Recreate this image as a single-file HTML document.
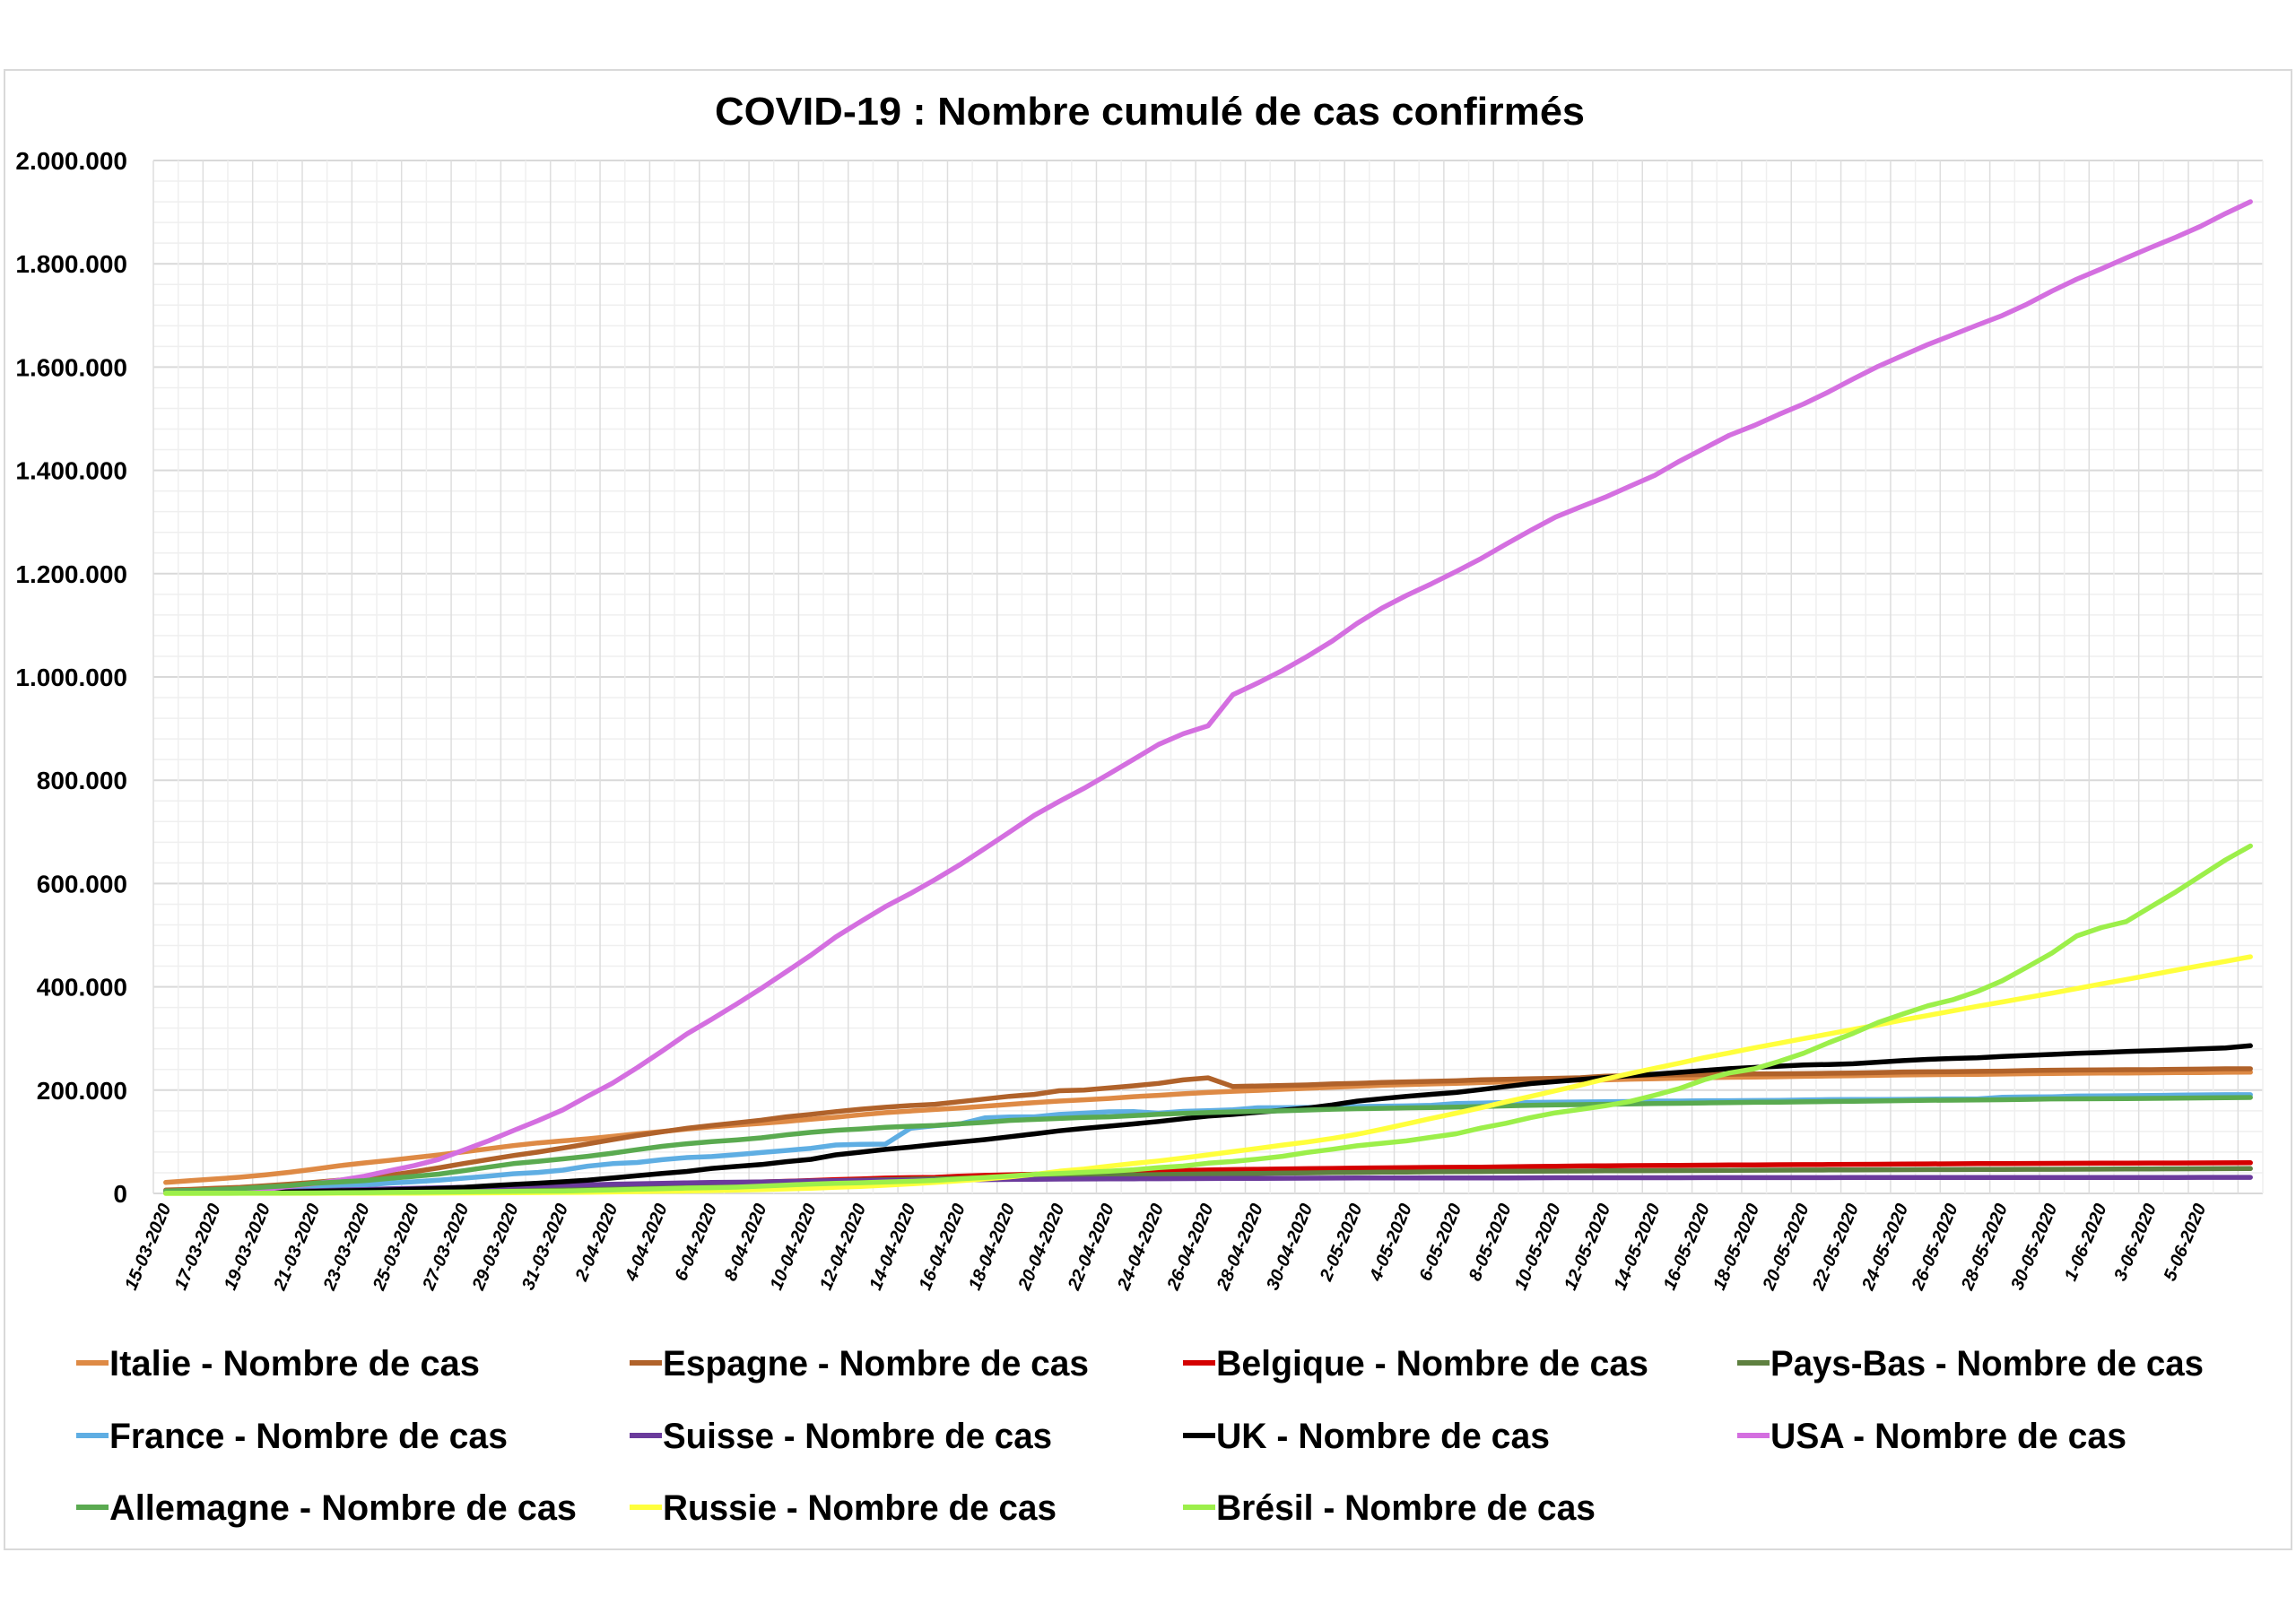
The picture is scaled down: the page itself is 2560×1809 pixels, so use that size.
<!DOCTYPE html>
<html><head><meta charset="utf-8"><style>
html,body{margin:0;padding:0;background:#fff;}
svg{display:block;}
text{font-family:"Liberation Sans",sans-serif;font-weight:bold;fill:#000;}
</style></head><body>
<svg id="chart" width="2560" height="1809" viewBox="0 0 2560 1809" xmlns="http://www.w3.org/2000/svg">
<rect x="5" y="78" width="2550" height="1650" fill="#fff" stroke="#d9d9d9" stroke-width="2"/>
<text x="797" y="139" font-size="44" textLength="970" lengthAdjust="spacingAndGlyphs">COVID-19 : Nombre cumulé de cas confirmés</text>
<g id="grid"></g>
<g id="yaxis"></g>
<g id="xaxis"></g>
<g id="series"></g>
<g id="legend"></g>
</svg>
<script>
const yTicks = [0,200000,400000,600000,800000,1000000,1200000,1400000,1600000,1800000,2000000];
const yTickLabels = ["0","200.000","400.000","600.000","800.000","1.000.000","1.200.000","1.400.000","1.600.000","1.800.000","2.000.000"];
const seriesNames = ["Italie","Espagne","Belgique","Pays-Bas","France","Suisse","UK","USA","Allemagne","Russie","Brésil"];
const italie = [21.2,24.7,28.0,31.5,35.7,41.0,47.0,53.6,59.1,63.9,69.2,74.4,80.6,86.5,92.5,97.7,101.7,105.8,110.6,115.2,119.8,124.6,128.9,132.5,135.6,139.4,143.6,147.6,152.3,156.4,159.5,162.5,165.2,168.9,172.4,175.9,178.9,181.2,183.9,187.3,189.9,192.9,195.4,197.7,199.4,201.5,203.6,205.5,207.4,209.3,210.7,211.9,213.0,214.5,215.9,217.2,218.3,219.1,219.8,221.2,222.1,223.1,223.9,224.8,225.4,225.9,226.7,227.4,228.0,228.7,229.3,229.9,230.2,230.6,231.1,231.7,232.2,232.7,233.0,233.2,233.5,233.8,234.0,234.5,234.8];
const espagne = [6.4,7.8,9.9,11.7,14.8,18.1,21.6,25.5,28.8,35.1,42.1,49.5,57.8,65.7,73.2,80.1,87.9,95.9,104.1,112.1,119.2,126.2,131.6,136.7,141.9,148.2,153.2,158.3,163.0,166.8,170.1,172.5,177.6,182.8,188.1,191.7,198.7,200.2,204.2,208.4,213.0,219.8,223.8,207,208,209,210,212,213,215,216,217,218,220,221,222,223,224,227,228,229,229.5,230,230.7,231.4,231.6,232,232.6,233,234,235,235.4,235.8,236.3,236.8,237.9,238.6,238.9,239.2,239.5,239.6,240.3,240.7,241.3,241.3];
const belgique = [0.69,0.89,1.06,1.24,1.49,1.8,2.26,2.82,3.4,3.74,4.27,4.94,6.24,7.28,9.13,10.84,11.9,12.78,13.96,15.35,16.77,18.43,19.69,20.81,22.19,23.4,24.98,26.67,28.02,29.65,30.59,31.12,33.57,34.81,36.14,37.18,38.5,39.98,40.96,41.89,42.8,44.29,45.33,46.13,46.69,47.33,47.86,48.52,49.03,49.52,49.91,50.27,50.51,50.78,51.42,52.01,52.6,53.08,53.45,53.78,53.98,54.29,54.64,54.99,55.28,55.56,55.79,55.98,56.24,56.51,56.81,57.09,57.34,57.59,57.85,58.06,58.19,58.38,58.52,58.62,58.77,58.91,59.07,59.23,59.35];
const paysBas = [1.14,1.41,1.71,2.05,2.46,2.99,3.63,4.2,4.76,5.56,6.41,7.43,8.6,9.76,10.87,11.75,12.6,13.61,14.7,15.82,16.63,17.85,18.8,19.71,20.68,21.9,23.1,24.41,25.59,26.55,27.42,28.15,29.21,30.45,31.59,32.66,33.58,34.13,34.84,35.73,36.54,37.19,37.85,38.25,38.8,39.32,39.79,40.24,40.57,41.09,41.32,41.77,42.09,42.38,42.63,42.98,43.21,43.48,43.68,43.87,44.14,44.34,44.45,44.7,44.89,45.06,45.24,45.45,45.58,45.77,45.97,46.1,46.26,46.45,46.55,46.65,46.73,46.9,47.0,47.15,47.34,47.57,47.74,47.94,48.09];
const france = [4.5,5.4,6.6,7.7,9.1,10.9,12.6,14.4,16.2,19.9,22.6,25.6,29.6,33.4,38.1,40.7,45.2,52.8,57.7,59.9,65.2,69.5,71.4,75.0,79.2,83.1,87.4,93.8,94.9,95.4,126,131,134.6,146.1,148,148.3,153,155.4,158,158.3,155.4,158.9,160,162,165.8,165.9,166.5,167.3,168.4,168.9,169.5,170.6,174.2,174.8,176,176.2,176.8,177.1,177.4,178,178.9,178.9,179.6,179.6,179.9,180,180.9,181.6,181.8,182.0,182.2,182.5,182.9,183.0,186.2,186.8,187.1,188.6,188.9,189.2,189.6,190.2,190.8,191.1,191.1];
const suisse = [1.36,2.2,2.2,2.7,3.03,4.08,5.29,6.58,7.47,8.8,9.77,10.9,11.8,12.9,14.1,14.9,15.9,16.6,17.8,18.8,19.6,20.5,21.1,21.7,22.2,23.3,24.1,24.6,25.1,25.4,25.7,25.9,26.3,26.7,27.1,27.4,27.7,27.9,28.1,28.3,28.5,28.7,28.9,29.1,29.2,29.4,29.6,29.7,29.8,29.9,29.9,30.0,30.0,30.1,30.1,30.2,30.3,30.3,30.3,30.4,30.4,30.4,30.5,30.5,30.6,30.6,30.6,30.6,30.7,30.7,30.7,30.7,30.7,30.8,30.8,30.8,30.8,30.9,30.9,30.9,30.9,30.9,31.0,31.0,31.0];
const uk = [1.1,1.4,1.5,1.95,2.6,2.7,3.98,5.0,5.7,6.7,8.1,9.6,11.7,14.7,17.3,19.8,22.5,25.5,29.9,34.2,38.8,42.5,48.4,52.3,55.9,61.5,65.9,74.6,79.9,85.2,89.6,94.8,99.5,104.1,109.8,115.3,121.2,125.9,130.2,134.6,139.2,144.6,149.6,153.0,157.1,161.1,165.2,171.3,178.7,183.5,187.8,191.8,195.5,201.1,207.0,212.6,216.5,220.4,224.3,227.7,230.9,234.4,238.0,241.5,244.0,246.4,248.8,249.6,251.0,254.2,257.2,259.6,261.2,262.5,265.2,267.2,269.1,271.2,272.8,274.8,276.3,278.0,279.9,281.7,286.0];
const usa = [2.7,3.5,4.6,6.4,7.8,13.7,19.1,25.5,33.3,43.8,53.7,65.8,83.8,101.7,121.5,140.9,161.8,188.2,213.4,243.6,275.6,308.9,337.1,366.7,397.1,429.1,461.4,496.5,526.4,555.3,580.6,607.7,636.4,667.8,699.7,732.2,759.1,784.3,811.9,840.4,869.2,890.0,905.3,965.8,988.2,1012.6,1039.9,1069.4,1103.5,1133.1,1158.0,1180.4,1204.4,1229.3,1257.0,1283.9,1309.6,1329.2,1347.9,1369.4,1390.4,1417.8,1442.8,1467.8,1486.8,1508.3,1528.6,1551.9,1577.1,1601.4,1622.6,1643.5,1662.4,1681.4,1699.9,1721.8,1747.1,1770.2,1790.2,1811.4,1831.8,1851.5,1872.7,1897.4,1920.1];
const allemagne = [4.6,5.8,7.3,9.3,12.3,15.3,19.8,22.2,24.9,29.1,32.9,37.3,43.9,50.9,57.7,62.1,66.9,71.8,77.9,84.8,91.2,96.1,100.1,103.4,107.7,113.3,118.2,122.2,124.9,127.9,130.1,131.4,134.8,137.7,141.4,143.3,145.2,147.1,148.3,150.6,153.1,154.9,156.5,157.8,158.8,159.9,161.5,163.0,164.1,164.8,165.7,166.2,167.0,168.2,169.4,170.6,171.3,171.9,172.6,173.2,174.0,174.5,175.2,175.8,176.4,176.6,177.3,178.0,178.5,179.0,179.7,180.3,180.6,181.0,181.5,182.2,182.9,183.2,183.4,183.6,184.1,184.4,184.9,185.4,185.8];
const russie = [0.06,0.06,0.09,0.11,0.15,0.2,0.25,0.3,0.37,0.44,0.5,0.66,0.84,1.04,1.26,1.53,1.84,2.34,2.78,3.55,4.15,4.73,5.39,6.34,7.5,8.67,10.13,11.92,13.58,15.77,18.33,21.1,24.49,27.94,32.0,36.79,42.85,47.12,52.76,57.99,62.77,68.62,74.59,80.95,87.15,93.56,99.4,106.5,114.4,124.1,134.7,145.3,155.4,165.9,177.2,187.9,198.7,209.7,221.3,232.2,242.3,252.2,262.8,272.0,281.8,290.7,299.9,308.7,317.6,326.4,335.9,344.5,353.4,362.3,370.7,379.1,387.6,396.6,405.8,414.3,423.2,432.3,441.1,449.3,458.1];
const bresil = [0.15,0.2,0.23,0.29,0.43,0.62,0.9,1.13,1.55,1.92,2.25,2.55,2.98,3.42,3.9,4.26,4.58,5.72,6.84,7.91,9.06,10.36,11.13,12.16,14.03,16.17,18.09,19.64,20.73,22.17,23.43,25.26,28.32,30.68,33.68,36.72,38.65,40.74,43.08,45.76,50.04,52.99,58.51,61.89,66.5,71.89,79.36,85.38,92.2,97.1,101.8,108.6,115.5,126.6,135.8,146.9,156.1,162.7,169.6,178.2,190.1,203.2,220.3,233.1,241.1,255.4,271.6,291.6,310.1,330.9,347.4,363.2,374.9,391.2,411.8,438.2,465.2,498.4,514.8,526.4,555.4,584.0,614.9,645.8,672.8];
const seriesData = [italie,espagne,belgique,paysBas,france,suisse,uk,usa,allemagne,russie,bresil];
const seriesColors = ["#DE8A45","#B0622A","#D40000","#5E8040","#5FAEE3","#6B3B9C","#000000","#D46FE0","#5AAA50","#FFFF3C","#9CEF4A"];
const monthLens = {3:31,4:30,5:31,6:30};
const categories = [];
(function(){let d=15,m=3;for(let i=0;i<85;i++){categories.push(d+"-"+String(m).padStart(2,"0")+"-2020");d++;if(d>monthLens[m]){d=1;m++;}}})();

const NS="http://www.w3.org/2000/svg";
const L=171,R=2523,T=179,B=1331,YMAX=2000000;
const n=categories.length, cw=(R-L)/n;
const xPos=i=>L+cw*(i+0.5);
const yPos=v=>B-(v/YMAX)*(B-T);
function mk(tag,attrs,parent){const e=document.createElementNS(NS,tag);for(const k in attrs)e.setAttribute(k,attrs[k]);parent.appendChild(e);return e;}

const grid=document.getElementById('grid');
for(let v=0;v<=YMAX;v+=40000){
  const ln=mk('line',{x1:L,x2:R,y1:yPos(v),y2:yPos(v),stroke:(v%200000===0)?'#d9d9d9':'#efefef','stroke-width':(v%200000===0)?2:1.5},grid);
  
  
}
for(let i=0;i<=n;i++){
  const x=L+cw*i;
  const ln=mk('line',{x1:x,x2:x,y1:T,y2:B,stroke:(i%2===0)?'#dedede':'#efefef','stroke-width':1.5},grid);
  
  
}
const yax=document.getElementById('yaxis');
yTicks.forEach((v,k)=>{
  const t=mk('text',{x:142,y:yPos(v)+10,'text-anchor':'end','font-size':28},yax);
  t.textContent=yTickLabels[k];
  
  
});
const xax=document.getElementById('xaxis');
categories.forEach((c,i)=>{
  if(i%2!==0||i>82)return;
  const x=xPos(i)+6,y=1346;
  const t=mk('text',{x:x,y:y,'text-anchor':'end','font-size':20,'font-style':'italic',transform:`rotate(-67 ${x} ${y})`},xax);
  t.textContent=c;
  
  
});
const sg=document.getElementById('series');
seriesData.forEach((arr,s)=>{
  const pts=arr.map((v,i)=>xPos(i).toFixed(1)+","+yPos(v*1000).toFixed(1)).join(" ");
  const p=mk('polyline',{points:pts,fill:'none',stroke:seriesColors[s],'stroke-width':5.5,'stroke-linejoin':'round','stroke-linecap':'round'},sg);
  
  
});
const lg=document.getElementById('legend');
const colX=[85,702,1319,1937], rowY=[1520,1601,1681];
const legW=[413,475,482,483,444,434,372,397,521,439,423];
seriesNames.forEach((nm,s)=>{
  const cx=colX[s%4], cy=rowY[Math.floor(s/4)];
  const g=mk('g',{},lg);
  
  
  mk('line',{x1:cx,x2:cx+36,y1:cy,y2:cy,stroke:seriesColors[s],'stroke-width':6},g);
  const t=mk('text',{x:cx+37,y:cy+14,'font-size':40,textLength:legW[s],lengthAdjust:'spacingAndGlyphs'},g);
  t.textContent=nm+" - Nombre de cas";
});
</script>
</body></html>
